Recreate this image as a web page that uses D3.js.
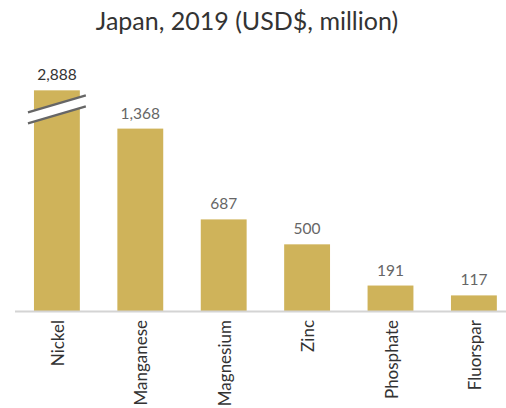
<html>
<head>
<script src="https://d3js.org/d3.v7.min.js"></script>
<style>
body { margin: 0; background: #fff; font-family: 'Source Sans Pro', Lato, 'Noto Sans', sans-serif; }
</style>
</head>
<body>
<div id="plot"></div>
<script>
var title = "Japan, 2019 (USD$, million)";
var minerals = ["Nickel", "Manganese", "Magnesium", "Zinc", "Phosphate", "Fluorspar"];
var values = [2888, 1368, 687, 500, 191, 117];
// tallest bar is cut at this value and a break is drawn
var capValue = 1655;

var width = 506, height = 408;
var baseline = 311;

var svg = d3.select("#plot").append("svg")
  .attr("width", width).attr("height", height);

var xScale = d3.scaleBand().domain(minerals).range([15.2, 515.6])
  .paddingInner(0.45).paddingOuter(0.225);
var yScale = d3.scaleLinear().domain([0, 1500]).range([baseline, 111]);

svg.append("text")
  .attr("x", 247).attr("y", 30)
  .attr("text-anchor", "middle")
  .style("font-size", "25px").style("fill", "#333")
  .text(title);

var data = minerals.map(function (m, i) { return { name: m, value: values[i] }; });

svg.selectAll("rect.bar").data(data).enter()
  .append("rect").attr("class", "bar")
  .attr("x", function (d) { return xScale(d.name); })
  .attr("width", xScale.bandwidth())
  .attr("y", function (d) { return yScale(Math.min(d.value, capValue)); })
  .attr("height", function (d) { return baseline - yScale(Math.min(d.value, capValue)); })
  .style("fill", "#cfb35a");

// break marks on the cut bar
data.forEach(function (d) {
  if (d.value <= capValue) return;
  var x0 = xScale(d.name) - 6, x1 = xScale(d.name) + xScale.bandwidth() + 6;
  var yTop = yScale(capValue);
  var upL = yTop + 22, upR = yTop + 5, loL = yTop + 33, loR = yTop + 16;
  svg.append("polygon")
    .attr("points", [[x0, upL], [x1, upR], [x1, loR], [x0, loL]].join(" "))
    .style("fill", "#fff");
  [[upL, upR], [loL, loR]].forEach(function (p) {
    svg.append("line")
      .attr("x1", x0).attr("y1", p[0]).attr("x2", x1).attr("y2", p[1])
      .style("stroke", "#666").style("stroke-width", 2.2);
  });
});

svg.selectAll("text.value").data(data).enter()
  .append("text").attr("class", "value")
  .attr("x", function (d) { return xScale(d.name) + xScale.bandwidth() / 2; })
  .attr("y", function (d) { return yScale(Math.min(d.value, capValue)) - 10; })
  .attr("text-anchor", "middle")
  .style("font-size", "15.5px")
  .style("fill", function (d) { return d.value > capValue ? "#333" : "#666"; })
  .text(function (d) { return d3.format(",")(d.value); });

svg.append("line")
  .attr("x1", 15).attr("x2", 506)
  .attr("y1", baseline + 0.5).attr("y2", baseline + 0.5)
  .style("stroke", "#d4d4d4").style("stroke-width", 2);

svg.selectAll("text.cat").data(data).enter()
  .append("text").attr("class", "cat")
  .attr("transform", function (d) {
    return "translate(" + (xScale(d.name) + xScale.bandwidth() / 2 + 7) + "," + (baseline + 9) + ") rotate(-90)";
  })
  .attr("text-anchor", "end")
  .style("font-size", "17px").style("fill", "#333")
  .text(function (d) { return d.name; });
</script>
</body>
</html>
